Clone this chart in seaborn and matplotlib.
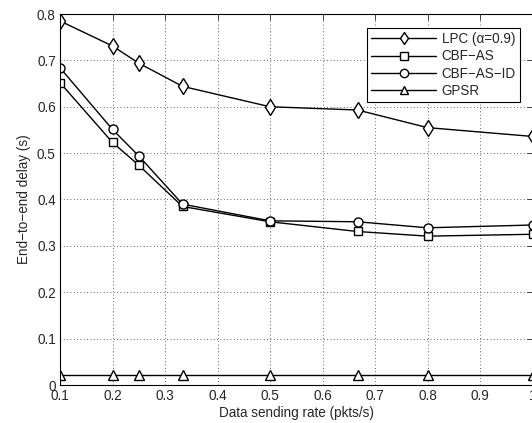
import numpy as np
import pandas as pd
import matplotlib
matplotlib.use("Agg")
import matplotlib.pyplot as plt
import seaborn as sns

rates = [0.1, 0.2, 0.25, 1/3, 0.5, 2/3, 0.8, 1.0]
lpc = [0.785, 0.731, 0.694, 0.644, 0.600, 0.593, 0.555, 0.536]
cbf_as = [0.652, 0.523, 0.474, 0.385, 0.352, 0.331, 0.321, 0.325]
cbf_as_id = [0.684, 0.551, 0.494, 0.390, 0.354, 0.352, 0.339, 0.345]
gpsr = [0.021, 0.021, 0.021, 0.021, 0.021, 0.021, 0.021, 0.021]
names = ["LPC (α=0.9)", "CBF\u2212AS", "CBF\u2212AS\u2212ID", "GPSR"]
xticks = [0.1, 0.2, 0.3, 0.4, 0.5, 0.6, 0.7, 0.8, 0.9, 1.0]
xticklabels = ["0.1", "0.2", "0.3", "0.4", "0.5", "0.6", "0.7", "0.8", "0.9", "1"]
yticks = [0, 0.1, 0.2, 0.3, 0.4, 0.5, 0.6, 0.7, 0.8]
yticklabels = ["0", "0.1", "0.2", "0.3", "0.4", "0.5", "0.6", "0.7", "0.8"]

rows = []
for name, vals in zip(names, [lpc, cbf_as, cbf_as_id, gpsr]):
    for x, v in zip(rates, vals):
        rows.append({"rate": x, "delay": v, "method": name})
df = pd.DataFrame(rows)

sns.set_style("white")
plt.rcParams['font.family'] = ['Liberation Sans', 'DejaVu Sans']

FS = 9.75
fig = plt.figure(figsize=(5.32, 4.23), dpi=100)
ax = fig.add_axes([60/532, 1-385/423, 472.5/532, (385-14)/423])

markers = {names[0]: "d", names[1]: "s", names[2]: "o", names[3]: "^"}
palette = {n: "black" for n in names}
sns.lineplot(data=df, x="rate", y="delay", hue="method", style="method",
             markers=markers, dashes=False, palette=palette, ax=ax,
             markerfacecolor="white", markeredgecolor="black",
             markeredgewidth=1.0, markersize=6.5, linewidth=1.0,
             hue_order=names, style_order=names)
sizes = {"d": 8.5, "s": 5.5, "o": 6.5, "^": 6.5}
for line in ax.lines:
    m = line.get_marker()
    if m in sizes:
        line.set_markersize(sizes[m])

ax.set_xlim(0.1, 1.0)
ax.set_ylim(0, 0.8)
ax.set_xticks(xticks)
ax.set_xticklabels(xticklabels)
ax.set_yticks(yticks)
ax.set_yticklabels(yticklabels)
ax.tick_params(direction="in", labelsize=FS, length=4, width=0.6, top=True, right=True, pad=3)
ax.grid(True, linestyle=(0, (1, 3)), color="black", linewidth=0.6, alpha=0.8)
for s in ax.spines.values():
    s.set_color("black")
    s.set_linewidth(0.8)
ax.set_xlabel("Data sending rate (pkts/s)", fontsize=FS, labelpad=2)
ax.set_ylabel("End\u2212to\u2212end delay (s)", fontsize=FS, labelpad=4)

handles, labels = ax.get_legend_handles_labels()
for h in handles:
    h.set_markerfacecolor("white")
    h.set_markeredgecolor("black")
    h.set_color("black")
    h.set_markersize(6)
leg = ax.legend(handles, labels, loc="upper right", fontsize=FS, frameon=True,
                fancybox=False, handlelength=4.8, handletextpad=0.4,
                borderpad=0.3, labelspacing=0.25, edgecolor="black", framealpha=1,
                borderaxespad=0)
leg.get_frame().set_linewidth(0.8)
leg.set_bbox_to_anchor((520/532, 1-28/423), transform=fig.transFigure)

fig.savefig("out.png", dpi=100)
